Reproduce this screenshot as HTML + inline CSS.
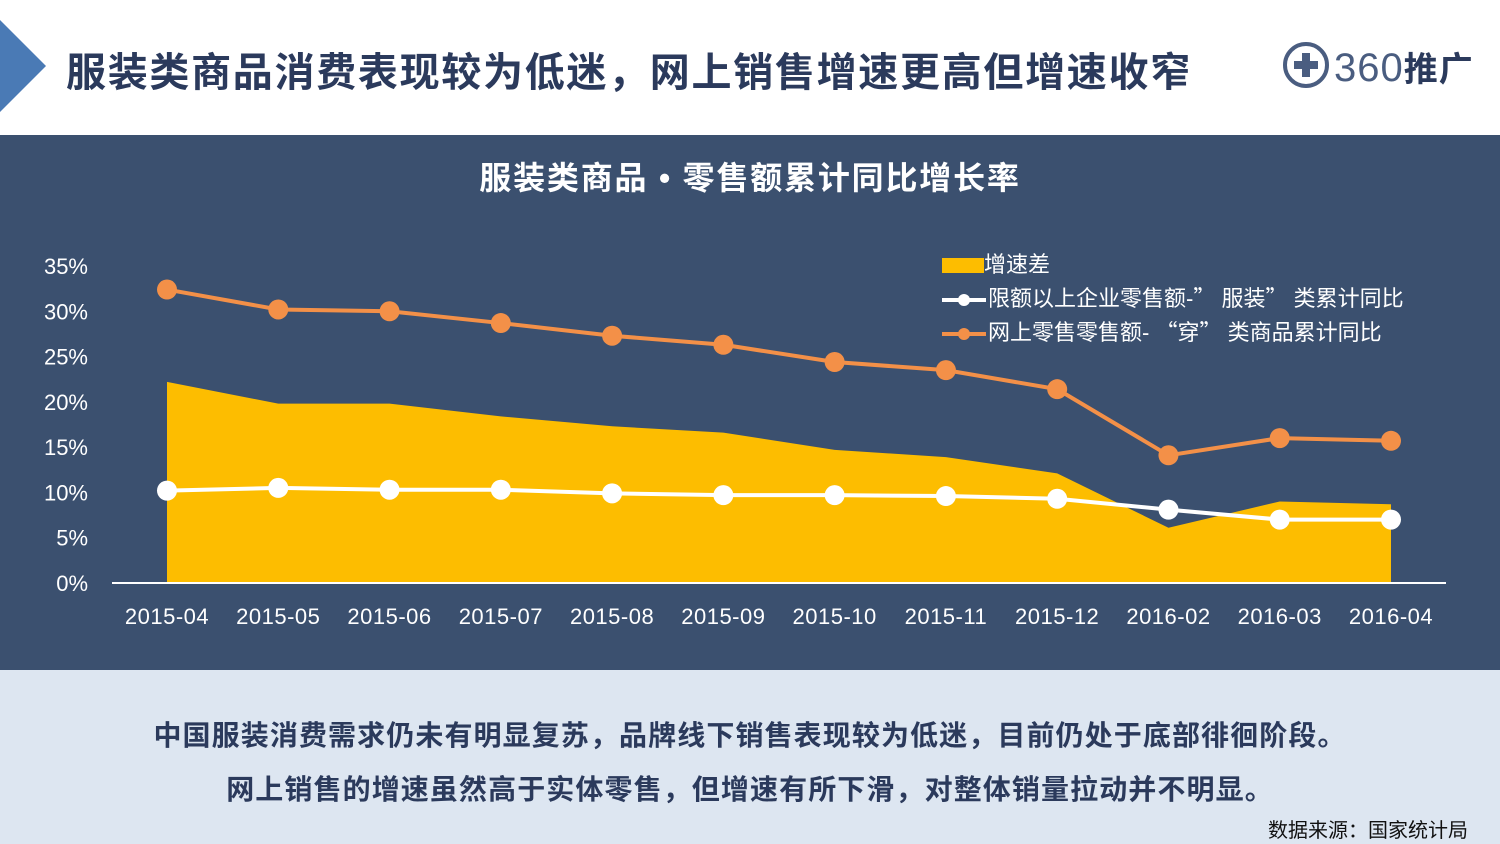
<!DOCTYPE html>
<html><head><meta charset="utf-8">
<style>
body{margin:0;width:1500px;height:844px;overflow:hidden;font-family:"Liberation Sans","Noto Sans CJK SC",sans-serif;background:#fff;position:relative}
.abs{position:absolute}
</style></head>
<body>
<div class="abs" style="left:0;top:0;width:1500px;height:135px;background:#fff">
  <svg class="abs" style="left:0;top:0" width="50" height="115"><polygon points="0,20 46,66 0,112" fill="#4a7ab5"/></svg>
  <div class="abs" style="left:66px;top:40px;font-size:40px;font-weight:bold;color:#2b3a5c;white-space:nowrap;letter-spacing:1.7px">服装类商品消费表现较为低迷，网上销售增速更高但增速收窄</div>
  <div class="abs" style="left:1282px;top:40px;width:200px;height:50px">
    <svg class="abs" style="left:0;top:0" width="50" height="50"><circle cx="24" cy="25" r="21" fill="none" stroke="#4a5d80" stroke-width="4"/><rect x="20" y="13" width="8" height="24" fill="#4a5d80"/><rect x="12" y="21" width="24" height="8" fill="#4a5d80"/></svg>
    <div class="abs" style="left:52px;top:2px;font-size:40px;color:#4a5d80;letter-spacing:1px">360<span style="font-size:34px;font-weight:bold;color:#2b3a5c">推广</span></div>
  </div>
</div>
<div class="abs" style="left:0;top:135px;width:1500px;height:535px;background:#3b506f"></div>
<div class="abs" style="left:0;top:153px;width:1500px;text-align:center;font-size:32px;font-weight:bold;color:#fff;letter-spacing:1.8px">服装类商品 • 零售额累计同比增长率</div>
<svg class="abs" id="chart" style="left:0;top:135px" width="1500" height="535"></svg>
<div class="abs" style="left:942px;top:248px;color:#fff;font-size:22px;line-height:33px;white-space:nowrap">
  <div><span style="display:inline-block;width:42px;height:15px;background:#fdbd00;vertical-align:-1px"></span>增速差</div>
  <div><svg width="46" height="16" style="vertical-align:-2px"><line x1="0" y1="8" x2="44" y2="8" stroke="#fff" stroke-width="4"/><circle cx="22" cy="8" r="6" fill="#fff"/></svg>限额以上企业零售额-<span style="font-family:'Noto Sans CJK SC'">”</span> 服装<span style="font-family:'Noto Sans CJK SC'">”</span> 类累计同比</div>
  <div><svg width="46" height="16" style="vertical-align:-2px"><line x1="0" y1="8" x2="44" y2="8" stroke="#f39048" stroke-width="4"/><circle cx="22" cy="8" r="6" fill="#f39048"/></svg>网上零售零售额- <span style="font-family:'Noto Sans CJK SC'">“</span>穿<span style="font-family:'Noto Sans CJK SC'">”</span> 类商品累计同比</div>
</div>
<div class="abs" style="left:0;top:670px;width:1500px;height:174px;background:#dde6f1">
  <div class="abs" style="left:0;top:44px;width:1500px;text-align:center;font-size:28px;font-weight:bold;color:#2b3a5c;letter-spacing:1.1px">中国服装消费需求仍未有明显复苏，品牌线下销售表现较为低迷，目前仍处于底部徘徊阶段。</div>
  <div class="abs" style="left:0;top:98px;width:1500px;text-align:center;font-size:28px;font-weight:bold;color:#2b3a5c;letter-spacing:1.1px">网上销售的增速虽然高于实体零售，但增速有所下滑，对整体销量拉动并不明显。</div>
  <div class="abs" style="right:32px;top:144px;font-size:20px;color:#111">数据来源：国家统计局</div>
</div>
<script>
const categories=["2015-04","2015-05","2015-06","2015-07","2015-08","2015-09","2015-10","2015-11","2015-12","2016-02","2016-03","2016-04"];
const onlineValues=[32.4,30.2,30.0,28.7,27.3,26.3,24.4,23.5,21.4,14.1,16.0,15.7];
const offlineValues=[10.2,10.5,10.3,10.3,9.9,9.7,9.7,9.6,9.3,8.1,7.0,7.0];
const gapValues=[22.2,19.8,19.8,18.4,17.3,16.6,14.7,13.9,12.1,6.1,9.0,8.7];
const yTicks=[0,5,10,15,20,25,30,35];
const NS="http://www.w3.org/2000/svg";
const svg=document.getElementById('chart');
const x=i=>167+i*((1391-167)/(categories.length-1));
const y=v=>448-v*(317/35);
function mk(t,a){const e=document.createElementNS(NS,t);for(const k in a)e.setAttribute(k,a[k]);svg.appendChild(e);return e;}
yTicks.forEach(v=>{const t=mk('text',{x:88,y:y(v)+8,'text-anchor':'end',fill:'#fff','font-size':'22'});t.textContent=v+'%';

});
let d='M'+x(0)+','+y(0);gapValues.forEach((v,i)=>d+=' L'+x(i)+','+y(v));d+=' L'+x(gapValues.length-1)+','+y(0)+'Z';
const area=mk('path',{d:d,fill:'#fdbd00'});


const ax=mk('line',{x1:112,x2:1446,y1:y(0),y2:y(0),stroke:'#fff','stroke-width':2});


categories.forEach((c,i)=>{const t=mk('text',{x:x(i),y:489,'text-anchor':'middle',fill:'#fff','font-size':'22','letter-spacing':'0.5'});t.textContent=c;

});
function series(vals,col,name){
 const l=mk('polyline',{points:vals.map((v,i)=>x(i)+','+y(v)).join(' '),fill:'none',stroke:col,'stroke-width':4});
 
 
 vals.forEach((v,i)=>{const c=mk('circle',{cx:x(i),cy:y(v),r:10,fill:col});
 
 });
}
series(onlineValues,'#f39048','online');
series(offlineValues,'#ffffff','offline');
</script>
</body></html>
